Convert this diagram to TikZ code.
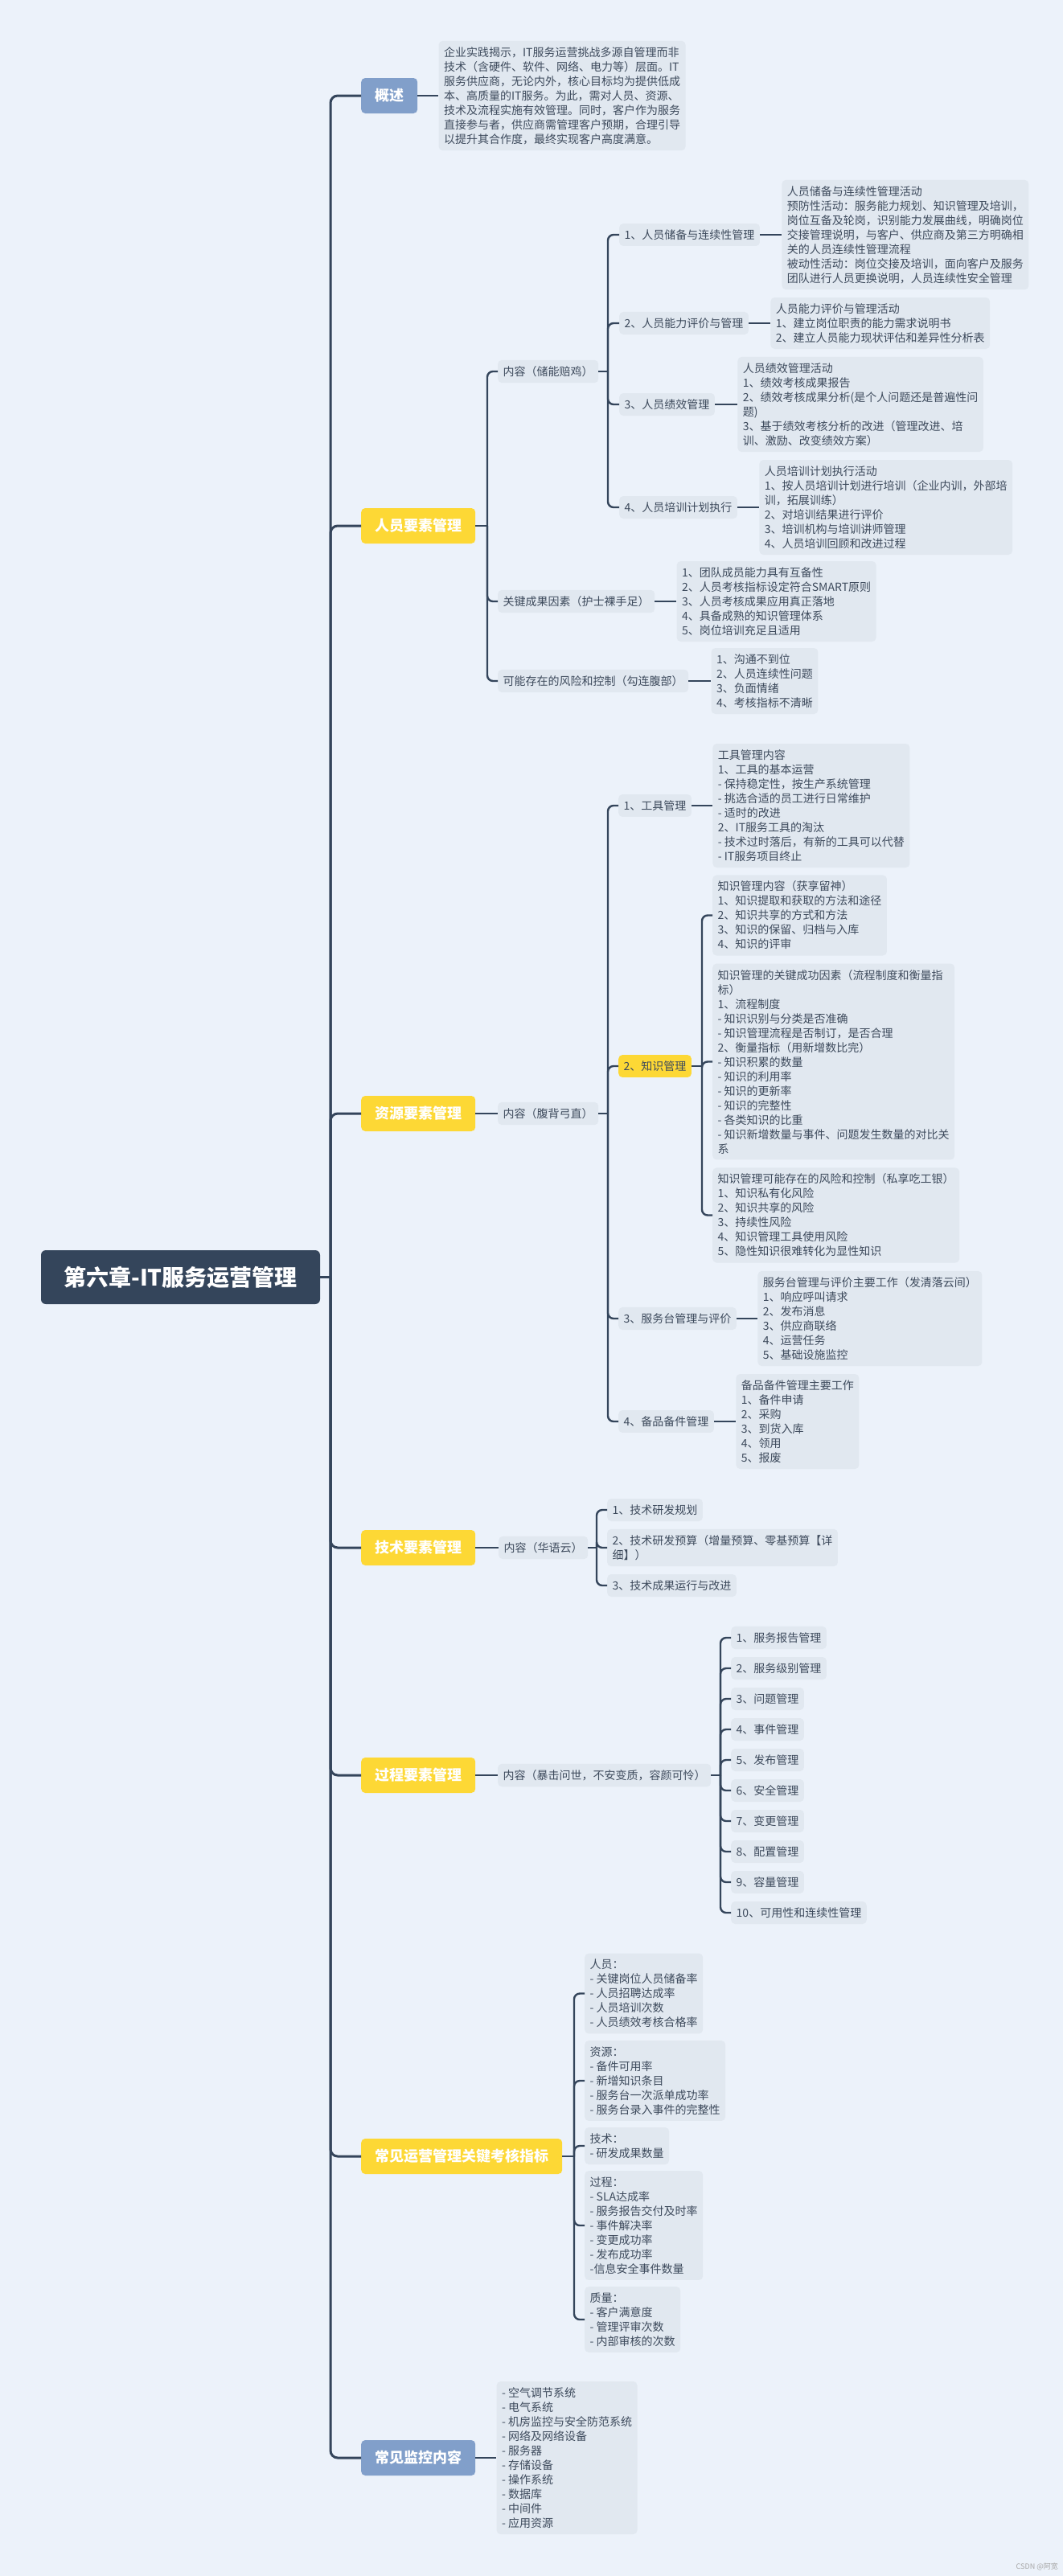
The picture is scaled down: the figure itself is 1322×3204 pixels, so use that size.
\documentclass[tikz,border=0pt]{standalone}
\usepackage{fontspec}
\setmainfont{Noto Sans CJK SC}
\usetikzlibrary{positioning}
\definecolor{bgc}{HTML}{ECF2FA}
\definecolor{boxc}{HTML}{E1E8F0}
\definecolor{txtc}{HTML}{3D4A5C}
\definecolor{linec}{HTML}{34455B}
\definecolor{yelc}{HTML}{FDD835}
\definecolor{bluc}{HTML}{819FCA}
\begin{document}
\begin{tikzpicture}[x=1pt,y=-1pt,
  conn/.style={draw=linec, line width=2.4pt, rounded corners=7pt},
  mainconn/.style={draw=linec, line width=3pt, rounded corners=9pt},
  tbox/.style={fill=boxc, rounded corners=5pt, text=txtc, font=\fontsize{14}{18}\selectfont, align=left, inner xsep=6.5pt, inner ysep=7.5pt, anchor=west},
  lone/.style={rounded corners=5pt, text=white, font=\fontsize{18}{22}\selectfont\bfseries, minimum height=44pt, inner xsep=17pt, anchor=west},
  yel/.style={lone, fill=yelc},
  blu/.style={lone, fill=bluc}]
\fill[bgc] (0,0) rectangle (1322,3204);
\useasboundingbox (0,0) rectangle (1322,3204);

% root
\node[fill=linec, rounded corners=6pt, text=white, font=\fontsize{28}{32}\selectfont\bfseries, minimum width=347pt, minimum height=67pt, inner sep=0pt] (root) at (224.5,1588.5) {第六章-IT服务运营管理};

% level 1
\node[blu] (L0) at (449,119) {概述};
\node[yel] (L1) at (449,654) {人员要素管理};
\node[yel] (L2) at (449,1385) {资源要素管理};
\node[yel] (L3) at (449,1925) {技术要素管理};
\node[yel] (L4) at (449,2208) {过程要素管理};
\node[yel] (L5) at (449,2682) {常见运营管理关键考核指标};
\node[blu] (L6) at (449,3057) {常见监控内容};

% overview
\node[tbox, right=26pt of L0] (ov) {企业实践揭示，IT服务运营挑战多源自管理而非\\技术（含硬件、软件、网络、电力等）层面。IT\\服务供应商，无论内外，核心目标均为提供低成\\本、高质量的IT服务。为此，需对人员、资源、\\技术及流程实施有效管理。同时，客户作为服务\\直接参与者，供应商需管理客户预期，合理引导\\以提升其合作度，最终实现客户高度满意。};

% personnel
\node[tbox] (P1) at (619,462) {内容（储能赔鸡）};
\node[tbox] (P2) at (619,748) {关键成果因素（护士裸手足）};
\node[tbox] (P3) at (619,847) {可能存在的风险和控制（勾连腹部）};
\node[tbox] (P11) at (770,292) {1、人员储备与连续性管理};
\node[tbox] (P12) at (770,402) {2、人员能力评价与管理};
\node[tbox] (P13) at (770,503) {3、人员绩效管理};
\node[tbox] (P14) at (770,631) {4、人员培训计划执行};
\node[tbox, right=27pt of P11] (D11) {人员储备与连续性管理活动\\预防性活动：服务能力规划、知识管理及培训，\\岗位互备及轮岗，识别能力发展曲线，明确岗位\\交接管理说明，与客户、供应商及第三方明确相\\关的人员连续性管理流程\\被动性活动：岗位交接及培训，面向客户及服务\\团队进行人员更换说明，人员连续性安全管理};
\node[tbox, right=27pt of P12] (D12) {人员能力评价与管理活动\\1、建立岗位职责的能力需求说明书\\2、建立人员能力现状评估和差异性分析表};
\node[tbox, right=28pt of P13] (D13) {人员绩效管理活动\\1、绩效考核成果报告\\2、绩效考核成果分析(是个人问题还是普遍性问\\题)\\3、基于绩效考核分析的改进（管理改进、培\\训、激励、改变绩效方案）};
\node[tbox, right=27pt of P14] (D14) {人员培训计划执行活动\\1、按人员培训计划进行培训（企业内训，外部培\\训，拓展训练）\\2、对培训结果进行评价\\3、培训机构与培训讲师管理\\4、人员培训回顾和改进过程};
\node[tbox, right=27pt of P2] (D2) {1、团队成员能力具有互备性\\2、人员考核指标设定符合SMART原则\\3、人员考核成果应用真正落地\\4、具备成熟的知识管理体系\\5、岗位培训充足且适用};
\node[tbox, right=28pt of P3] (D3) {1、沟通不到位\\2、人员连续性问题\\3、负面情绪\\4、考核指标不清晰};

% resource
\node[tbox] (R1) at (619,1385) {内容（腹背弓直）};
\node[tbox] (R11) at (769,1002) {1、工具管理};
\node[tbox, fill=yelc] (R12) at (769,1326) {2、知识管理};
\node[tbox] (R13) at (769,1640) {3、服务台管理与评价};
\node[tbox] (R14) at (769,1768) {4、备品备件管理};
\node[tbox, right=26pt of R11] (D21) {工具管理内容\\1、工具的基本运营\\- 保持稳定性，按生产系统管理\\- 挑选合适的员工进行日常维护\\- 适时的改进\\2、IT服务工具的淘汰\\- 技术过时落后，有新的工具可以代替\\- IT服务项目终止};
\node[tbox] (K1) at (886,1138.5) {知识管理内容（获享留神）\\1、知识提取和获取的方法和途径\\2、知识共享的方式和方法\\3、知识的保留、归档与入库\\4、知识的评审};
\node[tbox] (K2) at (886,1320.5) {知识管理的关键成功因素（流程制度和衡量指\\标）\\1、流程制度\\- 知识识别与分类是否准确\\- 知识管理流程是否制订，是否合理\\2、衡量指标（用新增数比完）\\- 知识积累的数量\\- 知识的利用率\\- 知识的更新率\\- 知识的完整性\\- 各类知识的比重\\- 知识新增数量与事件、问题发生数量的对比关\\系};
\node[tbox] (K3) at (886,1511.5) {知识管理可能存在的风险和控制（私享吃工银）\\1、知识私有化风险\\2、知识共享的风险\\3、持续性风险\\4、知识管理工具使用风险\\5、隐性知识很难转化为显性知识};
\node[tbox, right=26pt of R13] (D23) {服务台管理与评价主要工作（发清落云间）\\1、响应呼叫请求\\2、发布消息\\3、供应商联络\\4、运营任务\\5、基础设施监控};
\node[tbox, right=27pt of R14] (D24) {备品备件管理主要工作\\1、备件申请\\2、采购\\3、到货入库\\4、领用\\5、报废};

% technology
\node[tbox] (T1) at (620,1925) {内容（华语云）};
\node[tbox] (T11) at (755,1878) {1、技术研发规划};
\node[tbox] (T12) at (755,1925) {2、技术研发预算（增量预算、零基预算【详\\细】）};
\node[tbox] (T13) at (755,1972) {3、技术成果运行与改进};

% process
\node[tbox] (Q0) at (619,2208) {内容（暴击问世，不安变质，容颜可怜）};
\node[tbox] (Q1) at (909,2037) {1、服务报告管理};
\node[tbox] (Q2) at (909,2075) {2、服务级别管理};
\node[tbox] (Q3) at (909,2113) {3、问题管理};
\node[tbox] (Q4) at (909,2151) {4、事件管理};
\node[tbox] (Q5) at (909,2189) {5、发布管理};
\node[tbox] (Q6) at (909,2227) {6、安全管理};
\node[tbox] (Q7) at (909,2265) {7、变更管理};
\node[tbox] (Q8) at (909,2303) {8、配置管理};
\node[tbox] (Q9) at (909,2341) {9、容量管理};
\node[tbox] (Q10) at (909,2379) {10、可用性和连续性管理};

% KPI
\node[tbox] (M1) at (727,2479.5) {人员：\\- 关键岗位人员储备率\\- 人员招聘达成率\\- 人员培训次数\\- 人员绩效考核合格率};
\node[tbox] (M2) at (727,2588) {资源：\\- 备件可用率\\- 新增知识条目\\- 服务台一次派单成功率\\- 服务台录入事件的完整性};
\node[tbox] (M3) at (727,2669) {技术：\\- 研发成果数量};
\node[tbox] (M4) at (727,2768) {过程：\\- SLA达成率\\- 服务报告交付及时率\\- 事件解决率\\- 变更成功率\\- 发布成功率\\-信息安全事件数量};
\node[tbox] (M5) at (727,2885) {质量：\\- 客户满意度\\- 管理评审次数\\- 内部审核的次数};

% monitoring
\node[tbox, right=26pt of L6] (N1) {- 空气调节系统\\- 电气系统\\- 机房监控与安全防范系统\\- 网络及网络设备\\- 服务器\\- 存储设备\\- 操作系统\\- 数据库\\- 中间件\\- 应用资源};

% watermark
\node[anchor=east, text=black!35, font=\fontsize{9}{11}\selectfont, inner sep=0pt] (wm) at (1316,3192) {CSDN @阿宽};

% trunk coordinates
\coordinate (t0) at (411,0);
\coordinate (t1) at (606,0);
\coordinate (t1a) at (756,0);
\coordinate (t2) at (756,0);
\coordinate (tk) at (873,0);
\coordinate (t3) at (742,0);
\coordinate (t4) at (896,0);
\coordinate (t5) at (714,0);

% connectors
\draw[mainconn] (root.east) -- (root.east -| t0);
\foreach \n in {L0,L1,L2,L3,L4,L5,L6} \draw[mainconn] (root.east -| t0) |- (\n.west);
\draw[conn] (L0.east) -- (ov.west);

\draw[conn] (L1.east) -- (L1.east -| t1);
\foreach \n in {P1,P2,P3} \draw[conn] (L1.east -| t1) |- (\n.west);
\draw[conn] (P1.east) -- (P1.east -| t1a);
\foreach \n in {P11,P12,P13,P14} \draw[conn] (P1.east -| t1a) |- (\n.west);
\foreach \a/\b in {P11/D11,P12/D12,P13/D13,P14/D14,P2/D2,P3/D3} \draw[conn] (\a.east) -- (\b.west);

\draw[conn] (L2.east) -- (R1.west);
\draw[conn] (R1.east) -- (R1.east -| t2);
\foreach \n in {R11,R12,R13,R14} \draw[conn] (R1.east -| t2) |- (\n.west);
\foreach \a/\b in {R11/D21,R13/D23,R14/D24} \draw[conn] (\a.east) -- (\b.west);
\draw[conn] (R12.east) -- (R12.east -| tk);
\foreach \n in {K1,K2,K3} \draw[conn] (R12.east -| tk) |- (\n.west);

\draw[conn] (L3.east) -- (T1.west);
\draw[conn] (T1.east) -- (T1.east -| t3);
\foreach \n in {T11,T12,T13} \draw[conn] (T1.east -| t3) |- (\n.west);

\draw[conn] (L4.east) -- (Q0.west);
\draw[conn] (Q0.east) -- (Q0.east -| t4);
\foreach \n in {Q1,Q2,Q3,Q4,Q5,Q6,Q7,Q8,Q9,Q10} \draw[conn] (Q0.east -| t4) |- (\n.west);

\draw[conn] (L5.east) -- (L5.east -| t5);
\foreach \n in {M1,M2,M3,M4,M5} \draw[conn] (L5.east -| t5) |- (\n.west);

\draw[conn] (L6.east) -- (N1.west);
\end{tikzpicture}
\end{document}
